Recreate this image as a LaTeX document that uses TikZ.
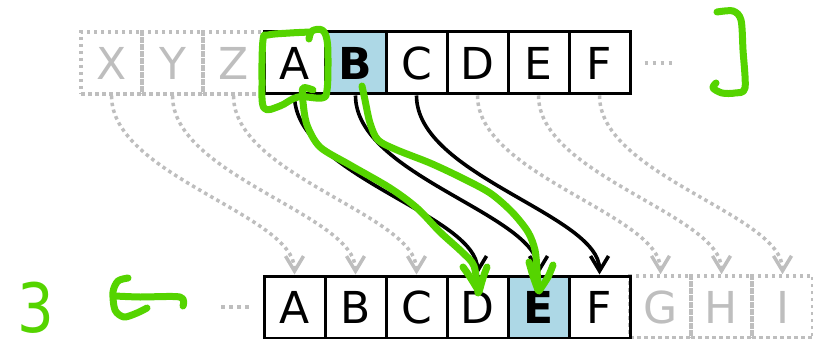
\documentclass[tikz,border=0pt]{standalone}
\usepackage{fontspec}
\setmainfont{DejaVu Sans}
\usetikzlibrary{arrows.meta}
\definecolor{cellgray}{HTML}{BEBEBE}
\definecolor{hlblue}{HTML}{ADD8E6}
\definecolor{penGreen}{HTML}{55D400}
\begin{document}
\begin{tikzpicture}[x=1pt,y=-1pt,
  letters/.style={font=\fontsize{44}{50}\selectfont},
  cell/.style={letters,draw=black,line width=3pt,minimum width=61pt,minimum height=62pt,inner sep=0pt},
  hlcell/.style={cell,fill=hlblue,font=\fontsize{44}{50}\selectfont\bfseries},
  ghost/.style={letters,draw=cellgray,text=cellgray,line width=3.5pt,dash pattern=on 3.5pt off 3.5pt,minimum width=61pt,minimum height=62pt,inner sep=0pt},
  shiftarrow/.style={draw=black,line width=3.6pt,-{Straight Barb[length=15pt,width=18pt]}},
  ghostarrow/.style={draw=cellgray,line width=3.5pt,dash pattern=on 3.5pt off 3.5pt,-{Straight Barb[length=15pt,width=18pt]}},
  ghostdots/.style={draw=cellgray,line width=3.5pt,dash pattern=on 3.5pt off 4.5pt},
  penline/.style={draw=penGreen,line width=7pt,line cap=round,line join=round}]
\useasboundingbox (0,0) rectangle (813,339);
% top row
\node[ghost] (tX) at (111.5,63) {X};
\node[ghost] (tY) at (172.5,63) {Y};
\node[ghost] (tZ) at (233.5,63) {Z};
\node[cell] (tA) at (294.5,63) {A};
\node[hlcell] (tB) at (355.5,63) {B};
\node[cell] (tC) at (416.5,63) {C};
\node[cell] (tD) at (477.5,63) {D};
\node[cell] (tE) at (538.5,63) {E};
\node[cell] (tF) at (599.5,63) {F};
% bottom row
\node[ghost] (bG) at (660.5,307) {G};
\node[ghost] (bH) at (721.5,307) {H};
\node[ghost] (bI) at (782.5,307) {I};
\node[cell] (bA) at (294.5,307) {A};
\node[cell] (bB) at (355.5,307) {B};
\node[cell] (bC) at (416.5,307) {C};
\node[cell] (bD) at (477.5,307) {D};
\node[hlcell] (bE) at (538.5,307) {E};
\node[cell] (bF) at (599.5,307) {F};
% ellipses
\draw[ghostdots] ([xshift=13pt]tF.east) -- ++(31,0);
\draw[ghostdots] ([xshift=-14pt]bA.west) -- ++(-31,0);
% shifts
\draw[ghostarrow] (tX.south) .. controls +(0,80) and +(0,-60) .. (bA.north);
\draw[ghostarrow] (tY.south) .. controls +(0,80) and +(0,-60) .. (bB.north);
\draw[ghostarrow] (tZ.south) .. controls +(0,80) and +(0,-60) .. (bC.north);
\draw[ghostarrow] (tD.south) .. controls +(0,80) and +(0,-60) .. (bG.north);
\draw[ghostarrow] (tE.south) .. controls +(0,80) and +(0,-60) .. (bH.north);
\draw[ghostarrow] (tF.south) .. controls +(0,80) and +(0,-60) .. (bI.north);
\draw[shiftarrow] (tA.south) .. controls +(0,80) and +(0,-60) .. (bD.north);
\draw[shiftarrow] (tB.south) .. controls +(0,80) and +(0,-60) .. (bE.north);
\draw[shiftarrow] (tC.south) .. controls +(0,80) and +(0,-60) .. (bF.north);
% green annotations
\draw[penline] plot[smooth,tension=0.6] coordinates {(309,39) (312,31) (322,30) (327,40) (328,62) (327,90) (322,98) (298,97) (280,106) (264,108) (262,80) (263,40) (268,35) (290,33) (311,32)};
\draw[penline] plot[smooth] coordinates {(313,90) (303,88) (303,102) (307,125) (320,147) (350,165) (390,188) (417,208) (440,232) (462,252) (474,266) (478,293)};
\draw[penline] plot[smooth] coordinates {(463,267) (470,277) (478,290)};
\draw[penline] plot[smooth] coordinates {(487,267) (483,278) (479,292)};
\draw[penline] plot[smooth] coordinates {(362,86) (365,100) (370,123) (378,140) (397,150) (430,163) (460,177) (490,193) (512,212) (528,232) (535,250) (537,270) (538,290)};
\draw[penline] plot[smooth] coordinates {(529,262) (533,276) (538,290)};
\draw[penline] plot[smooth] coordinates {(553,265) (548,277) (539,291)};
\draw[penline] plot[smooth] coordinates {(717,12) (733,11) (741,20) (743,50) (745,88) (735,93) (722,93) (713,88) (716,83)};
\draw[penline] plot[smooth] coordinates {(128,278) (118,281) (113,292) (115,310) (124,317) (137,313) (147,308)};
\draw[penline] plot[smooth] coordinates {(115,296) (140,297) (180,297) (183,306)};
\node[text=penGreen,font=\fontsize{68}{70}\selectfont,inner sep=0pt,xscale=0.85] (three) at (36,308) {3};
\end{tikzpicture}
\end{document}
